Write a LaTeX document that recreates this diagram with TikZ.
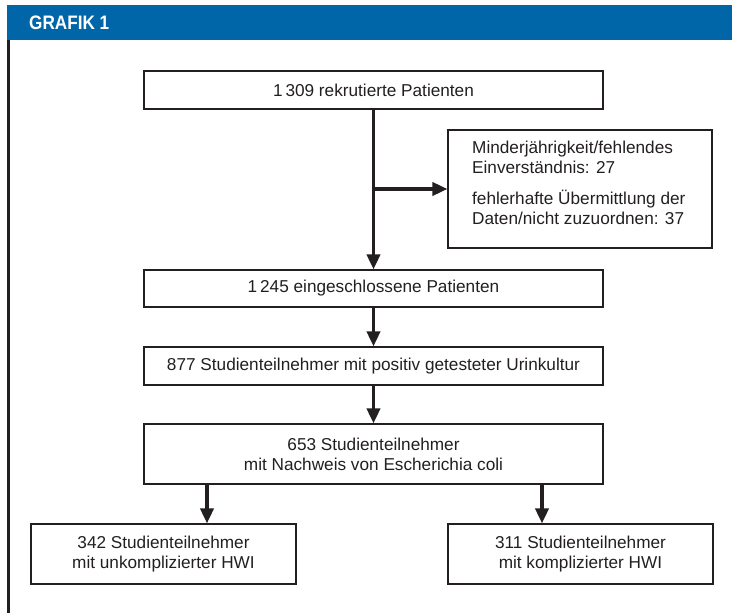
\documentclass[tikz,border=0pt]{standalone}
\usepackage{fontspec}
\setmainfont{Liberation Sans}
\newfontfamily\hdrfont[FakeStretch=0.88]{Liberation Sans}
\usetikzlibrary{arrows.meta,calc}
\definecolor{hdrblue}{HTML}{0066A8}
\definecolor{ink}{HTML}{231F20}
\begin{document}
\begin{tikzpicture}[x=1pt,y=-1pt,
  box/.style={draw=ink,line width=1.1pt,minimum width=459pt,inner sep=0pt,text=ink,
    font=\fontsize{17.2}{20}\selectfont,align=center},
  smallbox/.style={box,minimum width=265pt,minimum height=60pt},
  arr/.style={draw=ink,line width=3.6pt,-{Triangle[length=15pt,width=13pt]}}]
\useasboundingbox (0,0) rectangle (732,613);
\fill[hdrblue] (7,5) rectangle (732,40);
\node[anchor=west,text=white,font=\hdrfont\bfseries\fontsize{19.5}{20}\selectfont,inner sep=0pt] (hdr) at (29,23) {GRAFIK 1};
\draw[ink,line width=2.5pt] (8.25,40) -- (8.25,613);

\node[box,minimum height=38pt] (b1) at (373.5,90) {1\,309 rekrutierte Patienten};
\node[box,minimum height=37pt] (b2) at (373.5,288.5) {1\,245 eingeschlossene Patienten};
\node[box,minimum height=38pt] (b3) at (373.5,366) {877 Studienteilnehmer mit positiv getesteter Urinkultur};
\node[box,minimum height=60pt] (b4) at (373.5,454) {653 Studienteilnehmer\\mit Nachweis von Escherichia coli};
\node[smallbox] (b5) at (163.5,554) {342 Studienteilnehmer\\mit unkomplizierter HWI};
\node[smallbox] (b6) at (580.5,554) {311 Studienteilnehmer\\mit komplizierter HWI};
\node[draw=ink,line width=1.1pt,minimum width=264pt,minimum height=118pt,inner sep=0pt] (side) at (580,189) {};
\node[anchor=north west,inner sep=0pt,text=ink,align=left,font=\fontsize{17.2}{20}\selectfont] (sidetext) at (472,141)
  {Minderjährigkeit/fehlendes\\Einverständnis: 27\\[11pt]fehlerhafte Übermittlung der\\Daten/nicht zuzuordnen: 37};

\coordinate (j) at (b1.south |- side.west);
\coordinate (xl) at (207,0);
\coordinate (xr) at (542,0);
\draw[arr] (b1.south) -- (b2.north);
\draw[arr] (j) -- (side.west);
\draw[arr] (b2.south) -- (b3.north);
\draw[arr] (b3.south) -- (b4.north);
\draw[arr] (b4.south -| xl) -- (b5.north -| xl);
\draw[arr] (b4.south -| xr) -- (b6.north -| xr);
\end{tikzpicture}
\end{document}
